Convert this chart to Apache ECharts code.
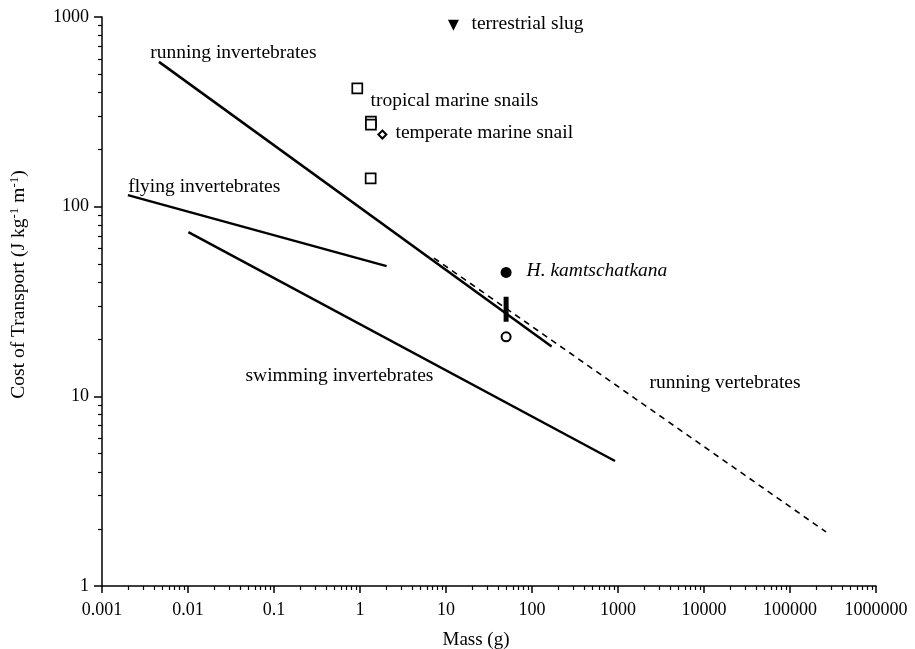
<!DOCTYPE html>
<html>
<head>
<meta charset="utf-8">
<script src="https://cdn.jsdelivr.net/npm/echarts@6/dist/echarts.min.js"></script>
<style>
  html, body { margin: 0; padding: 0; background: #fff; }
  #chart { width: 915px; height: 649px; }
</style>
</head>
<body>
<div id="chart"></div>
<script>
// axis ticks
const xTickValues = [0.001, 0.01, 0.1, 1, 10, 100, 1000, 10000, 100000, 1000000]
const xTickLabels = ['0.001', '0.01', '0.1', '1', '10', '100', '1000', '10000', '100000', '1000000']
const yTickValues = [1, 10, 100, 1000]
const yTickLabels = ['1', '10', '100', '1000']

// regression lines (mass g, cost J/kg/m)
const runInvMass = [0.0046, 169]
const runInvCost = [580, 18.3]
const flyInvMass = [0.002, 2.04]
const flyInvCost = [115, 48.6]
const swimInvMass = [0.0101, 923]
const swimInvCost = [73.5, 4.56]
const runVertMass = [7.25, 262000]
const runVertCost = [53.6, 1.93]

// individual species
const slugMass = [12.2]
const slugCost = [906]
const tropSnailMass = [0.93, 1.34, 1.34, 1.33]
const tropSnailCost = [420, 281, 271, 141]
const tempSnailMass = [1.82]
const tempSnailCost = [240]
const hkFilledMass = [50]
const hkFilledCost = [45]
const hkOpenMass = [50]
const hkOpenCost = [20.6]
const hkRangeMass = [50, 50]
const hkRangeCost = [33.5, 24.7]

// annotations
const annoNames = ['running invertebrates', 'flying invertebrates', 'swimming invertebrates',
  'running vertebrates', 'tropical marine snails', 'temperate marine snail',
  'terrestrial slug', 'H. kamtschatkana']
const annoMass = [0.0038, 0.0021, 0.0485, 2420, 1.38, 2.69, 20.6, 90]
const annoCost = [650, 127, 12.8, 11.75, 360, 244, 918, 45.8]
const annoItalic = [false, false, false, false, false, false, false, true]

const FONT = 'Liberation Serif, Times New Roman, serif'

const pairs = (xs, ys) => xs.map((x, i) => [x, ys[i]])

const minorVals = (lo, hi) => {
  const out = []
  for (let e = lo; e < hi; e++) {
    for (let k = 2; k <= 9; k++) out.push(k * Math.pow(10, e))
  }
  return out
}

const logLabel = (vals, labels) => (v) => {
  const i = vals.findIndex(t => Math.abs(Math.log10(t) - Math.log10(v)) < 1e-6)
  return i >= 0 ? labels[i] : ''
}

const chart = echarts.init(document.getElementById('chart'))

const lineSeries = (mass, cost, type, width) => ({
  type: 'line',
  data: pairs(mass, cost),
  symbol: 'none',
  silent: true,
  lineStyle: { color: '#000', width: width, type: type, opacity: 1 }
})

const pointSeries = (mass, cost, symbol, size, fill, border, extra) => Object.assign({
  type: 'scatter',
  data: pairs(mass, cost),
  symbol: symbol,
  symbolSize: size,
  itemStyle: { color: fill, borderColor: '#000', borderWidth: border, opacity: 1 }
}, extra || {})

const option = {
  backgroundColor: '#fff',
  animation: false,
  grid: { left: 102, right: 39, top: 17, bottom: 63, outerBoundsMode: 'none', containLabel: false },
  xAxis: [
    {
      type: 'log',
      min: 0.001,
      max: 1000000,
      name: 'Mass (g)',
      nameLocation: 'middle',
      nameGap: 45,
      nameTextStyle: { fontFamily: FONT, fontSize: 19, color: '#000', padding: [0, 26, 0, 0] },
      axisLine: { lineStyle: { color: '#000', width: 1.5 } },
      axisTick: { inside: false, length: 7, customValues: xTickValues, lineStyle: { color: '#000', width: 1.5 } },
      axisLabel: {
        customValues: xTickValues,
        formatter: logLabel(xTickValues, xTickLabels),
        fontFamily: FONT, fontSize: 18, color: '#000', margin: 15
      },
      splitLine: { show: false }
    },
    {
      type: 'log',
      min: 0.001,
      max: 1000000,
      position: 'bottom',
      axisLine: { show: false },
      axisTick: { length: 4, customValues: minorVals(-3, 6), lineStyle: { color: '#000', width: 1.2 } },
      axisLabel: { show: false },
      splitLine: { show: false }
    }
  ],
  yAxis: [
    {
      type: 'log',
      min: 1,
      max: 1000,
      name: 'Cost of Transport (J kg{sup|-1} m{sup|-1})',
      nameLocation: 'middle',
      nameGap: 72,
      nameRotate: 90,
      nameTextStyle: {
        fontFamily: FONT, fontSize: 19.5, color: '#000', padding: [0, 0, 0, 34],
        rich: { sup: { fontFamily: FONT, fontSize: 13, color: '#000', verticalAlign: 'bottom', padding: [0, 0, 9, 0] } }
      },
      axisLine: { lineStyle: { color: '#000', width: 1.5 } },
      axisTick: { inside: false, length: 8, customValues: yTickValues, lineStyle: { color: '#000', width: 1.5 } },
      axisLabel: {
        customValues: yTickValues,
        formatter: logLabel(yTickValues, yTickLabels),
        fontFamily: FONT, fontSize: 18, color: '#000', margin: 13
      },
      splitLine: { show: false }
    },
    {
      type: 'log',
      min: 1,
      max: 1000,
      position: 'left',
      axisLine: { show: false },
      axisTick: { length: 4, customValues: minorVals(0, 3), lineStyle: { color: '#000', width: 1.2 } },
      axisLabel: { show: false },
      splitLine: { show: false }
    }
  ],
  series: [
    lineSeries(runInvMass, runInvCost, 'solid', 2.5),
    lineSeries(flyInvMass, flyInvCost, 'solid', 2.5),
    lineSeries(swimInvMass, swimInvCost, 'solid', 2.5),
    lineSeries(runVertMass, runVertCost, [6, 5], 1.6),
    lineSeries(hkRangeMass, hkRangeCost, 'solid', 5),
    pointSeries(slugMass, slugCost, 'triangle', 11, '#000', 0, { symbolRotate: 180 }),
    pointSeries(tropSnailMass, tropSnailCost, 'rect', 10, '#fff', 1.7),
    pointSeries(tempSnailMass, tempSnailCost, 'diamond', 8, '#fff', 2),
    pointSeries(hkFilledMass, hkFilledCost, 'circle', 11, '#000', 0),
    pointSeries(hkOpenMass, hkOpenCost, 'circle', 9, '#fff', 2),
    {
      type: 'scatter',
      symbolSize: 1,
      itemStyle: { color: 'rgba(0,0,0,0)', opacity: 1 },
      silent: true,
      data: annoNames.map((n, i) => ({
        name: n,
        value: [annoMass[i], annoCost[i]],
        label: { fontStyle: annoItalic[i] ? 'italic' : 'normal' }
      })),
      label: {
        show: true,
        position: 'right',
        distance: -2,
        formatter: '{b}',
        fontFamily: FONT,
        fontSize: 19.5,
        color: '#000',
        opacity: 1
      }
    }
  ]
}

chart.setOption(option)
</script>
</body>
</html>
